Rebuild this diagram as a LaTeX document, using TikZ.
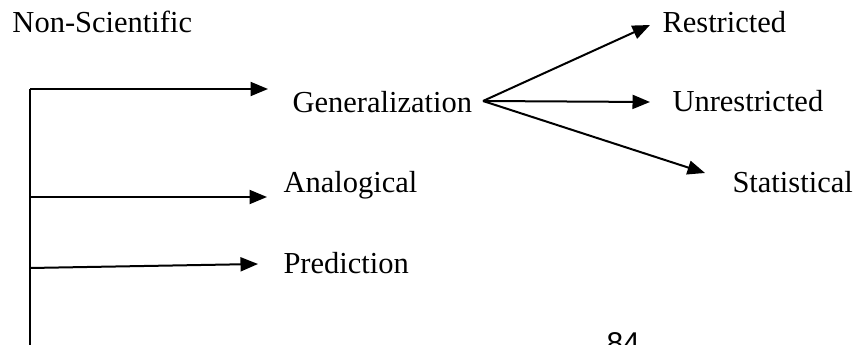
\documentclass[tikz,border=0pt]{standalone}
\usepackage{fontspec}
\setmainfont{Liberation Serif}
\newfontfamily\pagenofont{Liberation Sans}
\usetikzlibrary{arrows.meta}
\tikzset{
  lbl/.style={anchor=base west,inner sep=0pt,font=\fontsize{12.2}{14}\selectfont},
  arr/.style={-{Triangle[length=7pt,width=5.6pt]},line width=.8pt},
}
\begin{document}
\begin{tikzpicture}[line join=round,x=0.4pt,y=-0.4pt]
\clip (0,0) rectangle (857,345);
\node[lbl] (nonsci) at (12,33) {Non-Scientific};
\node[lbl] (gen) at (292,113) {Generalization};
\node[lbl] (analog) at (283,193) {Analogical};
\node[lbl] (pred) at (283,273) {Prediction};
\node[lbl] (restr) at (662,33) {Restricted};
\node[lbl] (unrestr) at (672,112) {Unrestricted};
\node[lbl] (stat) at (732,193) {Statistical};
\node[lbl,font=\pagenofont\fontsize{12}{14}\selectfont] (pageno) at (606,353) {84};
% trunk and branches
\coordinate (top) at (30,89);
\coordinate (bot) at (30,350);
\coordinate (gin) at (268,89);
\coordinate (ain) at (267,197);
\coordinate (pout) at (30,268);
\coordinate (pin) at (258,264);
\draw [line width=.8pt] (bot) -- (top);
\draw [arr] (top) -- (gin);
\draw [arr] (top |- ain) -- (ain);
\draw [arr] (pout) -- (pin);
% fan out of generalization
\coordinate (fan) at (483,101);
\coordinate (rin) at (650,25);
\coordinate (uin) at (650,102);
\coordinate (sin) at (705,173);
\draw [arr] (fan) -- (rin);
\draw [arr] (fan) -- (uin);
\draw [arr] (fan) -- (sin);
\end{tikzpicture}
\end{document}
